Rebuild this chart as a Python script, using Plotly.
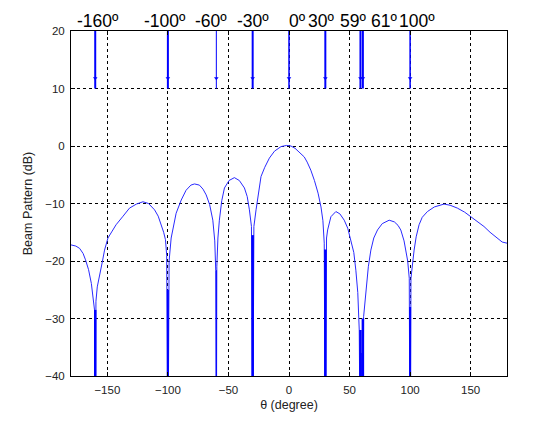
import plotly.graph_objects as go

# ---- data ----
theta = [-180, -176, -172.9, -170, -168, -165.5, -163.2, -161.5, -160.6, -160, -159.4, -158.3,
         -156.4, -154, -152.3, -149.5, -146, -142.8, -137, -131.7, -126, -120.6, -116, -111,
         -108, -105.5, -103.5, -102, -101, -100, -99, -97.3, -95, -93.2, -89, -85, -81, -78,
         -74, -71, -68.4, -65.5, -62.9, -61.3, -60.5, -60, -59.6, -58.7, -57.5, -55.5, -53.3,
         -49.5, -45.1, -41, -36.8, -34.5, -32.7, -31, -30, -29, -27.2, -25, -23.1, -20, -16.2,
         -12, -6.6, -2, 1.6, 5, 9.9, 12.6, 15, 18, 21, 24, 26.4, 28, 29.1, 30, 31, 31.9, 34.6,
         38.7, 42, 45.6, 48.5, 51.1, 53.5, 55.2, 56.8, 58, 59, 60, 61, 61.6, 63.5, 65.5, 67.6,
         70, 73.1, 77, 82.7, 87, 90, 92.3, 95, 96.5, 98, 99.3, 100, 100.7, 102, 103.3, 105,
         107.4, 110, 114.3, 120, 128, 133, 139, 145, 150, 155, 161, 166, 172, 176, 180]
beam_db = [-17.2, -17.4, -17.8, -18.7, -19.8, -21.5, -23.9, -26.5, -28.5, -60, -27, -24.5,
           -22.7, -20, -18.1, -16, -14.8, -13.7, -12.2, -10.8, -10.1, -9.7, -10.0, -11.1,
           -12.2, -13.7, -15, -16.3, -19, -60, -20, -16, -13.5, -11.7, -9.4, -7.7, -6.8, -6.6,
           -6.8, -7.5, -8.5, -10.2, -12.9, -16.5, -21.6, -60, -21, -16, -12.9, -9.5, -7.3,
           -6, -5.5, -6, -7.3, -8.8, -11.1, -14, -60, -14, -11.1, -8, -5.3, -3.7, -2.1,
           -0.9, -0.1, 0.1, 0, -0.4, -1.4, -1.9, -2.8, -4.2, -6, -8.2, -10.6, -13, -16.9, -60,
           -16, -14.6, -12.3, -11.4, -11.8, -12.9, -14.3, -16.3, -18.5, -21.6, -25.5, -32,
           -60, -36, -60, -29.7, -25, -21, -18.1, -16, -14.6, -13.5, -12.9, -13.2, -13.8,
           -14.6, -16.5, -18.1, -20, -23, -60, -23, -20, -18.1, -15.8, -13.7, -12.4, -11.4,
           -10.6, -10.1, -10.3, -10.8, -11.5, -12.3, -13.1, -14.0, -15.0, -16.1, -16.7, -16.9]

null_theta = [-160, -100, -60, -30, 30, 59, 61, 100]
null_top = [-28.5, -25, -21.6, -15.5, -18, -32, -30, -28]

steer_theta = [-160, -100, -60, -30, 0, 30, 59, 61, 100]
steer_labels = ["-160º", "-100º", "-60º", "-30º", "0º", "30º", "59º", "61º", "100º"]

x_ticks = [-150, -100, -50, 0, 50, 100, 150]
y_ticks = [-40, -30, -20, -10, 0, 10, 20]

# ---- layout helpers (positions, not data) ----
X_RANGE = [-180, 180]
label_x = [-158, -102, -64.5, -29.8, 6.9, 26.8, 52.6, 78.3, 105.5]
null_width = [2.5, 2, 1, 2.5, 2.5, 2.5, 2.5, 2]
arrow_width = [2, 2, 1, 2, 1.5, 2, 2, 2, 1.5]

BLUE = "#0000ff"
FONT = "Liberation Sans, Arial"
fig = go.Figure()

fig.add_trace(go.Scatter(x=theta, y=beam_db, mode="lines",
                         line=dict(color="#2a2aff", width=1), showlegend=False,
                         hoverinfo="skip"))

for t, top, w in zip(null_theta, null_top, null_width):
    fig.add_trace(go.Scatter(x=[t, t], y=[top, -40], mode="lines",
                             line=dict(color=BLUE, width=w), showlegend=False))

for t, w in zip(steer_theta, arrow_width):
    fig.add_trace(go.Scatter(x=[t, t], y=[20, 10], mode="lines",
                             line=dict(color=BLUE, width=w), showlegend=False))

fig.add_trace(go.Scatter(x=steer_theta, y=[11.8] * len(steer_theta), mode="markers",
                         marker=dict(symbol="triangle-down", size=4, color=BLUE),
                         showlegend=False))

for lx, txt in zip(label_x, steer_labels):
    px = (lx - X_RANGE[0]) / (X_RANGE[1] - X_RANGE[0])
    fig.add_annotation(x=px, y=1.03, xref="paper", yref="paper", text=txt, showarrow=False,
                       xanchor="center", yanchor="middle",
                       font=dict(family=FONT, size=17.5, color="black"))

axis_common = dict(showline=True, linecolor="black", linewidth=1, mirror="ticks",
                   ticks="inside", ticklen=4, tickcolor="black",
                   showgrid=True, gridcolor="black", griddash="3px,3px", gridwidth=1,
                   zeroline=False, ticklabelstandoff=3,
                   tickfont=dict(family=FONT, size=11.5, color="#222"))

fig.update_xaxes(range=X_RANGE, tickvals=x_ticks, **axis_common,
                 title=dict(text="θ (degree)", standoff=5,
                            font=dict(family=FONT, size=12.5, color="#222")))
fig.update_yaxes(range=[-40, 20], tickvals=y_ticks, **axis_common,
                 title=dict(text="Beam Pattern (dB)", standoff=9,
                            font=dict(family=FONT, size=12.5, color="#222")))

fig.update_layout(width=560, height=425, margin=dict(l=71, r=53, t=31, b=49),
                  paper_bgcolor="white", plot_bgcolor="white", showlegend=False)

fig.write_html("out.html")
